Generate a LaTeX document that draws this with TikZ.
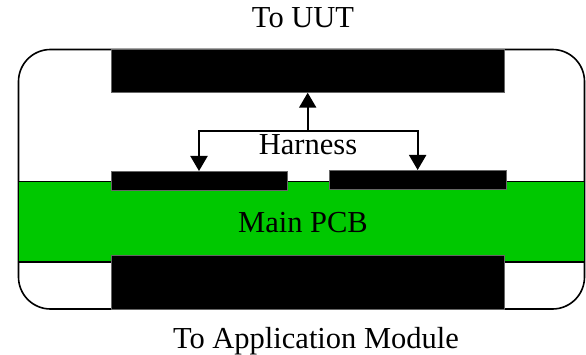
\documentclass[tikz,border=0pt]{standalone}
\usepackage{fontspec}
\setmainfont{Liberation Serif}
\usetikzlibrary{arrows.meta}
\definecolor{pcbgreen}{RGB}{0,200,0}
\tikzset{
  blk/.style={fill=black, draw=black!60, line width=0.4pt, inner sep=0pt, outer sep=0pt},
  arr/.style={line width=2pt, -{Triangle[width=17pt,length=15pt]}},
  lbl/.style={anchor=base, inner sep=0pt, font=\fontsize{30.5}{36}\selectfont}
}
\begin{document}
\begin{tikzpicture}[x=1pt,y=-1pt]
\useasboundingbox (0,0) rectangle (586,355);
% outer enclosure
\draw[line width=1.6pt, rounded corners=32pt, fill=white] (18.5,49.5) rectangle (584.5,309);
% main PCB
\draw[line width=1.6pt, fill=pcbgreen] (18.5,181.7) rectangle (584.5,262);
% connectors
\node[blk, minimum width=393.6pt, minimum height=43.2pt] (top) at (307.5,71.1) {};
\node[blk, minimum width=393.6pt, minimum height=54pt] (bot) at (307.5,282) {};
\node[blk, minimum width=176.6pt, minimum height=19.7pt] (left) at (199,180.85) {};
\node[blk, minimum width=176.7pt, minimum height=19.3pt] (right) at (417.65,179.65) {};
% harness
\coordinate (j) at (307.7,131);
\draw[arr] (j) -- (j |- top.south);
\draw[arr] (j) -| (left.north);
\draw[arr] (j) -| (right.north);
% labels
\node[lbl] (tuut) at (303,27.3) {To UUT};
\node[lbl] (harn) at (308,155) {Harness};
\node[lbl] (pcb) at (303,232.7) {Main PCB};
\node[lbl] (tapp) at (316,348) {To Application Module};
\end{tikzpicture}
\end{document}
